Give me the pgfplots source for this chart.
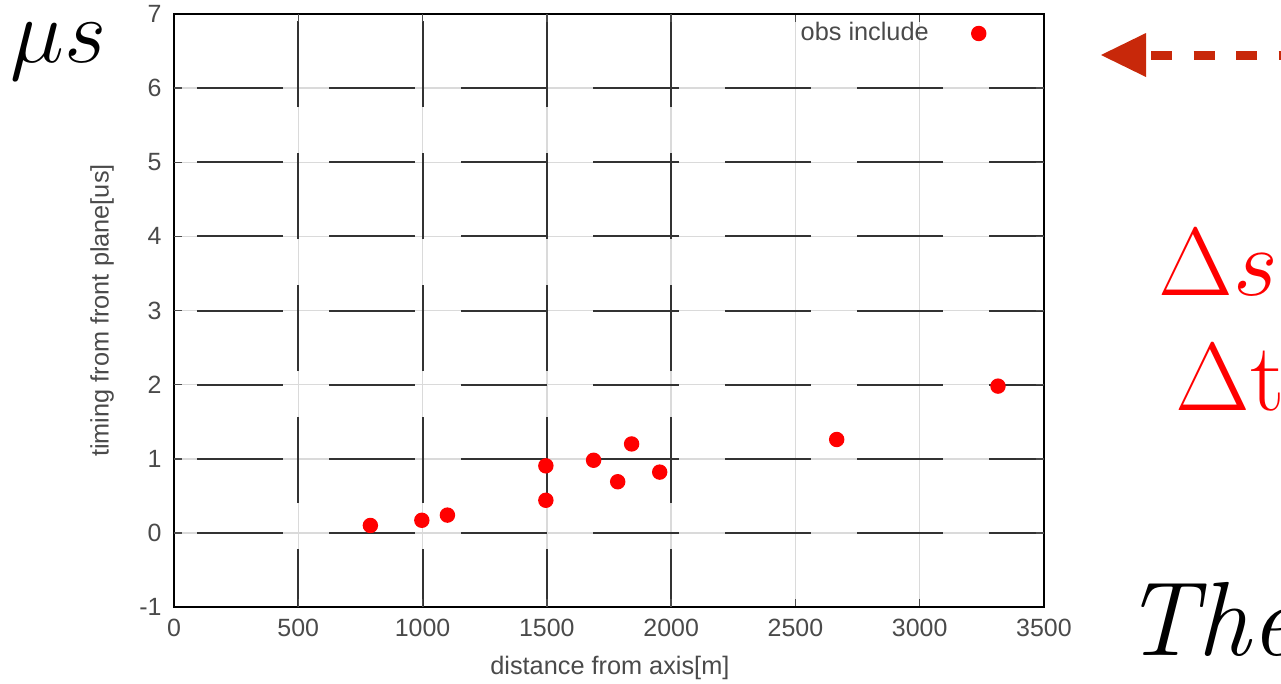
\RequirePackage{fix-cm}
\documentclass[border=0pt]{standalone}
\usepackage{fontspec}
\usepackage{pgfplots}
\pgfplotsset{compat=1.18}
\newfontfamily\lsans{Liberation Sans}
\definecolor{txtgray}{HTML}{4A4A4A}
\definecolor{arrred}{HTML}{C8280A}
\definecolor{gridgray}{HTML}{DADADA}
\pgfplotstableread{
x y
790 0.10
997 0.17
1100 0.24
1496 0.905
1496 0.44
1688 0.98
1785 0.69
1841 1.20
1954 0.82
2666 1.26
3315 1.98
}\obsdata
\begin{document}
\begin{tikzpicture}
\begin{axis}[
  at={(17.4mm,7.6mm)}, anchor=south west,
  scale only axis, width=87mm, height=59.3mm,
  xmin=0, xmax=3500, ymin=-1, ymax=7,
  xtick={0,500,...,3500}, ytick={-1,0,...,7},
  /pgf/number format/assume math mode=true,
  /pgf/number format/1000 sep={},
  tick label style={font=\lsans\fontsize{7.1}{8}\selectfont, text=txtgray},
  label style={font=\lsans\fontsize{7.2}{8}\selectfont, text=txtgray},
  xlabel={distance from axis[m]},
  ylabel={timing from front plane[us]},
  xlabel style={at={(axis description cs:0.501,-0.103)}, anchor=center},
  ylabel style={at={(axis description cs:-0.0828,0.5)}, anchor=center, rotate=0},
  axis line style={black, line width=0.25mm},
  tick style={black!70, line width=0.15mm},
  major tick length=0.8mm,
  grid=major,
  major grid style={gridgray, line width=0.15mm},
  extra x ticks={500,1000,1500,2000},
  extra x tick labels={},
  extra x tick style={grid=major, major grid style={black!80, line width=0.2mm, dash pattern=on 8.6mm off 4.6mm, dash phase=2.8mm}},
  extra y ticks={0,1,...,6},
  extra y tick labels={},
  extra y tick style={grid=major, major grid style={black!80, line width=0.2mm, dash pattern=on 8.6mm off 4.6mm, dash phase=10.9mm}},
  legend style={draw=none, fill=none, at={(rel axis cs:0.946,1.012)}, anchor=north east,
    font=\lsans\fontsize{7.2}{8}\selectfont, text=txtgray,
    /tikz/every odd column/.append style={column sep=3.6mm}},
  legend plot pos=right,
]
\addplot[only marks, mark=*, mark size=0.7mm, mark options={fill=red, draw=red}] table[x=x, y=y] {\obsdata};
\addlegendentry{obs include}
\end{axis}
% decorations
\node[anchor=base west, inner sep=0] at (1.0mm,62.1mm) {\fontsize{26}{30}\selectfont$\mu s$};
\node[anchor=base west, inner sep=0, text=red] at (115.8mm,38.8mm) {\fontsize{27.5}{32}\selectfont$\Delta s$};
\node[anchor=base west, inner sep=0, text=red] at (117.5mm,27.3mm) {\fontsize{27.5}{32}\selectfont$\Delta\mathrm{t}$};
\node[anchor=base west, inner sep=0] at (112.3mm,2.8mm) {\fontsize{30}{36}\selectfont\itshape The};
\fill[arrred] (110.1mm,62.8mm) -- (114.6mm,65.0mm) -- (114.6mm,60.6mm) -- cycle;
\draw[arrred, line width=0.9mm, dash pattern=on 2.1mm off 2.15mm] (115.1mm,62.8mm) -- (135mm,62.8mm);
\pgfresetboundingbox
\useasboundingbox (0,0) rectangle (128.1mm,68.3mm);
\end{tikzpicture}
\end{document}
